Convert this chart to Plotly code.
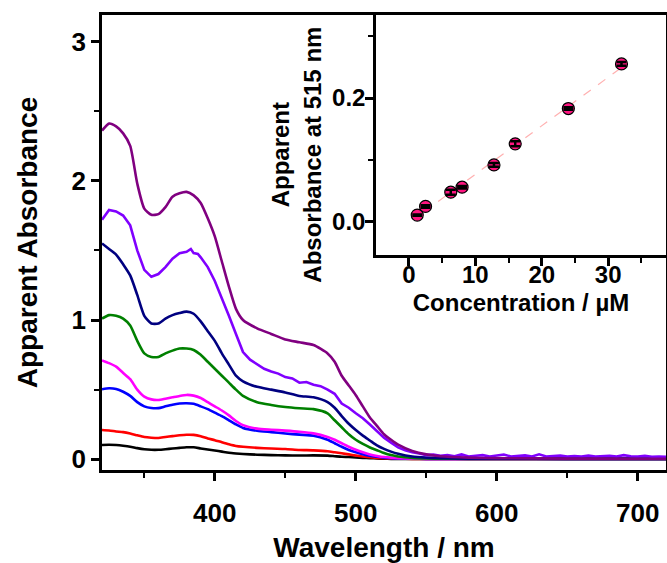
import plotly.graph_objects as go

# ---------------- main spectra data ----------------
wavelength = [320, 325, 330, 335, 340, 345, 350, 355, 360, 365, 370, 375, 380, 385, 390,
              395, 400, 405, 410, 415, 420, 430, 440, 450, 460, 470, 480, 485, 490, 495,
              500, 505, 510, 515, 520, 525, 530, 540, 550, 560, 580, 600, 650, 700, 720]

abs_black = [0.103, 0.104, 0.102, 0.097, 0.090, 0.080, 0.072, 0.068, 0.068, 0.072, 0.077, 0.082, 0.086, 0.086, 0.078,
             0.070, 0.063, 0.055, 0.047, 0.042, 0.038, 0.033, 0.030, 0.028, 0.027, 0.028, 0.026, 0.022, 0.018, 0.016,
             0.013, 0.010, 0.008, 0.006, 0.004, 0.003, 0.002, 0.002, 0.002, 0.002, 0.002, 0.002, 0.002, 0.002, 0.002]

abs_red = [0.210, 0.207, 0.200, 0.195, 0.185, 0.172, 0.160, 0.155, 0.153, 0.160, 0.166, 0.172, 0.176, 0.175, 0.166,
           0.150, 0.137, 0.122, 0.108, 0.096, 0.090, 0.082, 0.077, 0.074, 0.067, 0.064, 0.058, 0.050, 0.043, 0.035,
           0.027, 0.020, 0.014, 0.010, 0.007, 0.005, 0.004, 0.003, 0.003, 0.003, 0.003, 0.003, 0.003, 0.003, 0.003]

abs_blue = [0.503, 0.510, 0.505, 0.485, 0.455, 0.410, 0.380, 0.368, 0.367, 0.380, 0.392, 0.400, 0.402, 0.398, 0.380,
            0.360, 0.335, 0.310, 0.280, 0.250, 0.225, 0.205, 0.195, 0.185, 0.177, 0.170, 0.140, 0.115, 0.090, 0.067,
            0.050, 0.036, 0.025, 0.018, 0.012, 0.008, 0.006, 0.004, 0.003, 0.003, 0.003, 0.003, 0.003, 0.003, 0.003]

abs_magenta = [0.710, 0.690, 0.665, 0.620, 0.575, 0.500, 0.450, 0.430, 0.426, 0.435, 0.445, 0.455, 0.462, 0.457, 0.440,
               0.410, 0.380, 0.350, 0.315, 0.275, 0.245, 0.220, 0.212, 0.206, 0.198, 0.186, 0.160, 0.140, 0.115, 0.090,
               0.068, 0.050, 0.035, 0.024, 0.016, 0.011, 0.008, 0.005, 0.003, 0.003, 0.003, 0.003, 0.003, 0.003, 0.003]

abs_green = [1.010, 1.035, 1.030, 1.010, 0.960, 0.850, 0.760, 0.735, 0.735, 0.760, 0.780, 0.795, 0.795, 0.785, 0.750,
             0.700, 0.650, 0.600, 0.550, 0.500, 0.455, 0.410, 0.390, 0.375, 0.366, 0.360, 0.330, 0.280, 0.230, 0.180,
             0.140, 0.110, 0.085, 0.065, 0.045, 0.030, 0.020, 0.010, 0.006, 0.004, 0.003, 0.003, 0.003, 0.003, 0.003]

abs_navy = [1.550, 1.510, 1.470, 1.400, 1.320, 1.180, 1.030, 0.975, 0.975, 1.010, 1.035, 1.050, 1.060, 1.045, 0.990,
            0.920, 0.850, 0.760, 0.680, 0.600, 0.560, 0.520, 0.500, 0.480, 0.455, 0.445, 0.410, 0.370, 0.310, 0.255,
            0.210, 0.170, 0.135, 0.100, 0.075, 0.055, 0.040, 0.020, 0.012, 0.008, 0.005, 0.004, 0.003, 0.003, 0.003]

abs_purple = [2.360, 2.410, 2.390, 2.340, 2.250, 1.980, 1.800, 1.755, 1.760, 1.810, 1.885, 1.910, 1.920, 1.895, 1.840,
              1.730, 1.600, 1.420, 1.240, 1.080, 1.000, 0.940, 0.900, 0.860, 0.840, 0.820, 0.760, 0.700, 0.600, 0.530,
              0.460, 0.380, 0.300, 0.240, 0.180, 0.140, 0.105, 0.060, 0.035, 0.022, 0.012, 0.008, 0.005, 0.004, 0.004]

wavelength_violet = [320, 325, 330, 335, 340, 345, 350, 355, 360, 365, 370, 375, 380, 383, 385, 388, 390,
                     395, 400, 405, 410, 415, 420, 425, 430, 435, 440, 445, 450, 455, 460, 465, 470, 475,
                     480, 485, 490, 495, 500, 505, 510, 515, 520, 525, 530, 535, 540, 545, 550, 555, 560,
                     565, 570, 575, 580, 585, 590, 595, 600, 605, 610, 615, 620, 625, 630, 635, 640, 645,
                     650, 655, 660, 665, 670, 675, 680, 685, 690, 695, 700, 705, 710, 715, 720]
abs_violet = [1.720, 1.790, 1.780, 1.750, 1.680, 1.500, 1.360, 1.310, 1.330, 1.380, 1.440, 1.480, 1.490, 1.510, 1.480, 1.475, 1.450,
              1.380, 1.280, 1.160, 1.030, 0.900, 0.770, 0.715, 0.680, 0.650, 0.630, 0.615, 0.590, 0.580, 0.550, 0.555, 0.535, 0.525,
              0.500, 0.470, 0.400, 0.370, 0.330, 0.295, 0.250, 0.205, 0.155, 0.120, 0.085, 0.065, 0.050, 0.042, 0.030, 0.034, 0.025,
              0.030, 0.022, 0.035, 0.020, 0.025, 0.030, 0.020, 0.026, 0.034, 0.020, 0.024, 0.028, 0.020, 0.036, 0.020, 0.022, 0.027,
              0.020, 0.024, 0.020, 0.026, 0.020, 0.022, 0.025, 0.020, 0.030, 0.022, 0.020, 0.024, 0.018, 0.020, 0.017]

series = [
    ("black", abs_black, "#000000"),
    ("red", abs_red, "#FF0000"),
    ("blue", abs_blue, "#0000FF"),
    ("magenta", abs_magenta, "#FF00FF"),
    ("green", abs_green, "#008000"),
    ("navy", abs_navy, "#000080"),
    ("purple", abs_purple, "#800080"),
]

# ---------------- inset data ----------------
conc_uM = [1.25, 2.5, 6.3, 8.0, 12.8, 16.0, 24.0, 32.0]
abs_515 = [0.011, 0.025, 0.048, 0.056, 0.092, 0.126, 0.183, 0.255]
abs_515_err = [0.001, 0.002, 0.004, 0.002, 0.003, 0.004, 0.002, 0.003]
fit_conc = [4.4, 31.6]
fit_abs = [0.033, 0.246]

FONT = "Arial, Liberation Sans, sans-serif"

fig = go.Figure()

for name, vals, col in series[:6]:
    fig.add_trace(go.Scatter(x=wavelength, y=vals, mode="lines", name=name,
                             line=dict(color=col, width=2.6, shape="spline", smoothing=0.6),
                             showlegend=False))
fig.add_trace(go.Scatter(x=wavelength_violet, y=abs_violet, mode="lines", name="violet",
                         line=dict(color="#8000FF", width=2.6), showlegend=False))
name, vals, col = series[6]
fig.add_trace(go.Scatter(x=wavelength, y=vals, mode="lines", name=name,
                         line=dict(color=col, width=2.6, shape="spline", smoothing=0.6),
                         showlegend=False))

# inset
fig.add_trace(go.Scatter(x=fit_conc, y=fit_abs, mode="lines", xaxis="x2", yaxis="y2",
                         line=dict(color="#FFB0B0", width=1.2, dash="dash"), showlegend=False))
fig.add_trace(go.Scatter(x=conc_uM, y=abs_515, mode="markers", xaxis="x2", yaxis="y2",
                         marker=dict(color="#FF1480", size=12, line=dict(color="black", width=1.2)),
                         showlegend=False))
fig.add_trace(go.Scatter(x=conc_uM, y=abs_515, mode="markers", xaxis="x2", yaxis="y2",
                         marker=dict(opacity=0, size=1),
                         error_y=dict(type="data", array=abs_515_err, color="black", thickness=2.5, width=5),
                         showlegend=False))

axis_common = dict(showgrid=False, zeroline=False, linecolor="black", linewidth=2.5, automargin=False,
                   ticks="outside", tickcolor="black", tickwidth=2.5, ticklen=8)

fig.update_layout(
    template="none",
    width=667, height=563,
    margin=dict(l=102, r=1, t=15, b=93),
    paper_bgcolor="white", plot_bgcolor="white",
    font=dict(family=FONT, color="black"),
    xaxis=dict(**axis_common, domain=[0, 1], range=[320, 720], mirror=True,
               tickvals=[400, 500, 600, 700],
               minor=dict(ticks="outside", dtick=50, tick0=0, ticklen=5, tickwidth=2, tickcolor="black"),
               tickfont=dict(size=26, family=FONT, weight="bold"),
               ticklabelstandoff=10,
               title=dict(text="Wavelength / nm", font=dict(size=28, family=FONT, weight="bold"), standoff=22)),
    yaxis=dict(**axis_common, domain=[0, 1], range=[-0.077, 3.19], mirror=True,
               tickvals=[0, 1, 2, 3],
               minor=dict(ticks="outside", dtick=0.5, tick0=0, ticklen=5, tickwidth=2, tickcolor="black"),
               tickfont=dict(size=26, family=FONT, weight="bold"),
               title=dict(text="Apparent Absorbance", font=dict(size=28, family=FONT, weight="bold"), standoff=26)),
    xaxis2=dict(**axis_common, domain=[0.4858, 1], range=[-4.96, 38.7], anchor="y2",
                tickvals=[0, 10, 20, 30],
                minor=dict(ticks="outside", dtick=5, tick0=0, ticklen=5, tickwidth=2, tickcolor="black"),
                tickfont=dict(size=24, family=FONT, weight="bold"),
                ticklabelstandoff=-12,
                title=dict(text="Concentration / µM", font=dict(size=24, family=FONT, weight="bold"), standoff=8)),
    yaxis2=dict(**axis_common, domain=[0.4718, 1], range=[-0.054, 0.334], anchor="x2",
                tickvals=[0, 0.2], ticktext=["0.0", "0.2"],
                minor=dict(ticks="outside", dtick=0.1, tick0=0, ticklen=5, tickwidth=2, tickcolor="black"),
                tickfont=dict(size=24, family=FONT, weight="bold"),
                ticklabelstandoff=-5),
    annotations=[dict(text="Apparent<br>Absorbance at 515 nm", textangle=-90,
                      xref="paper", yref="paper", x=0.344, y=0.693,
                      xanchor="center", yanchor="middle", showarrow=False,
                      font=dict(size=24, family=FONT, weight="bold", color="black"))],
)

fig.write_html("out.html")
